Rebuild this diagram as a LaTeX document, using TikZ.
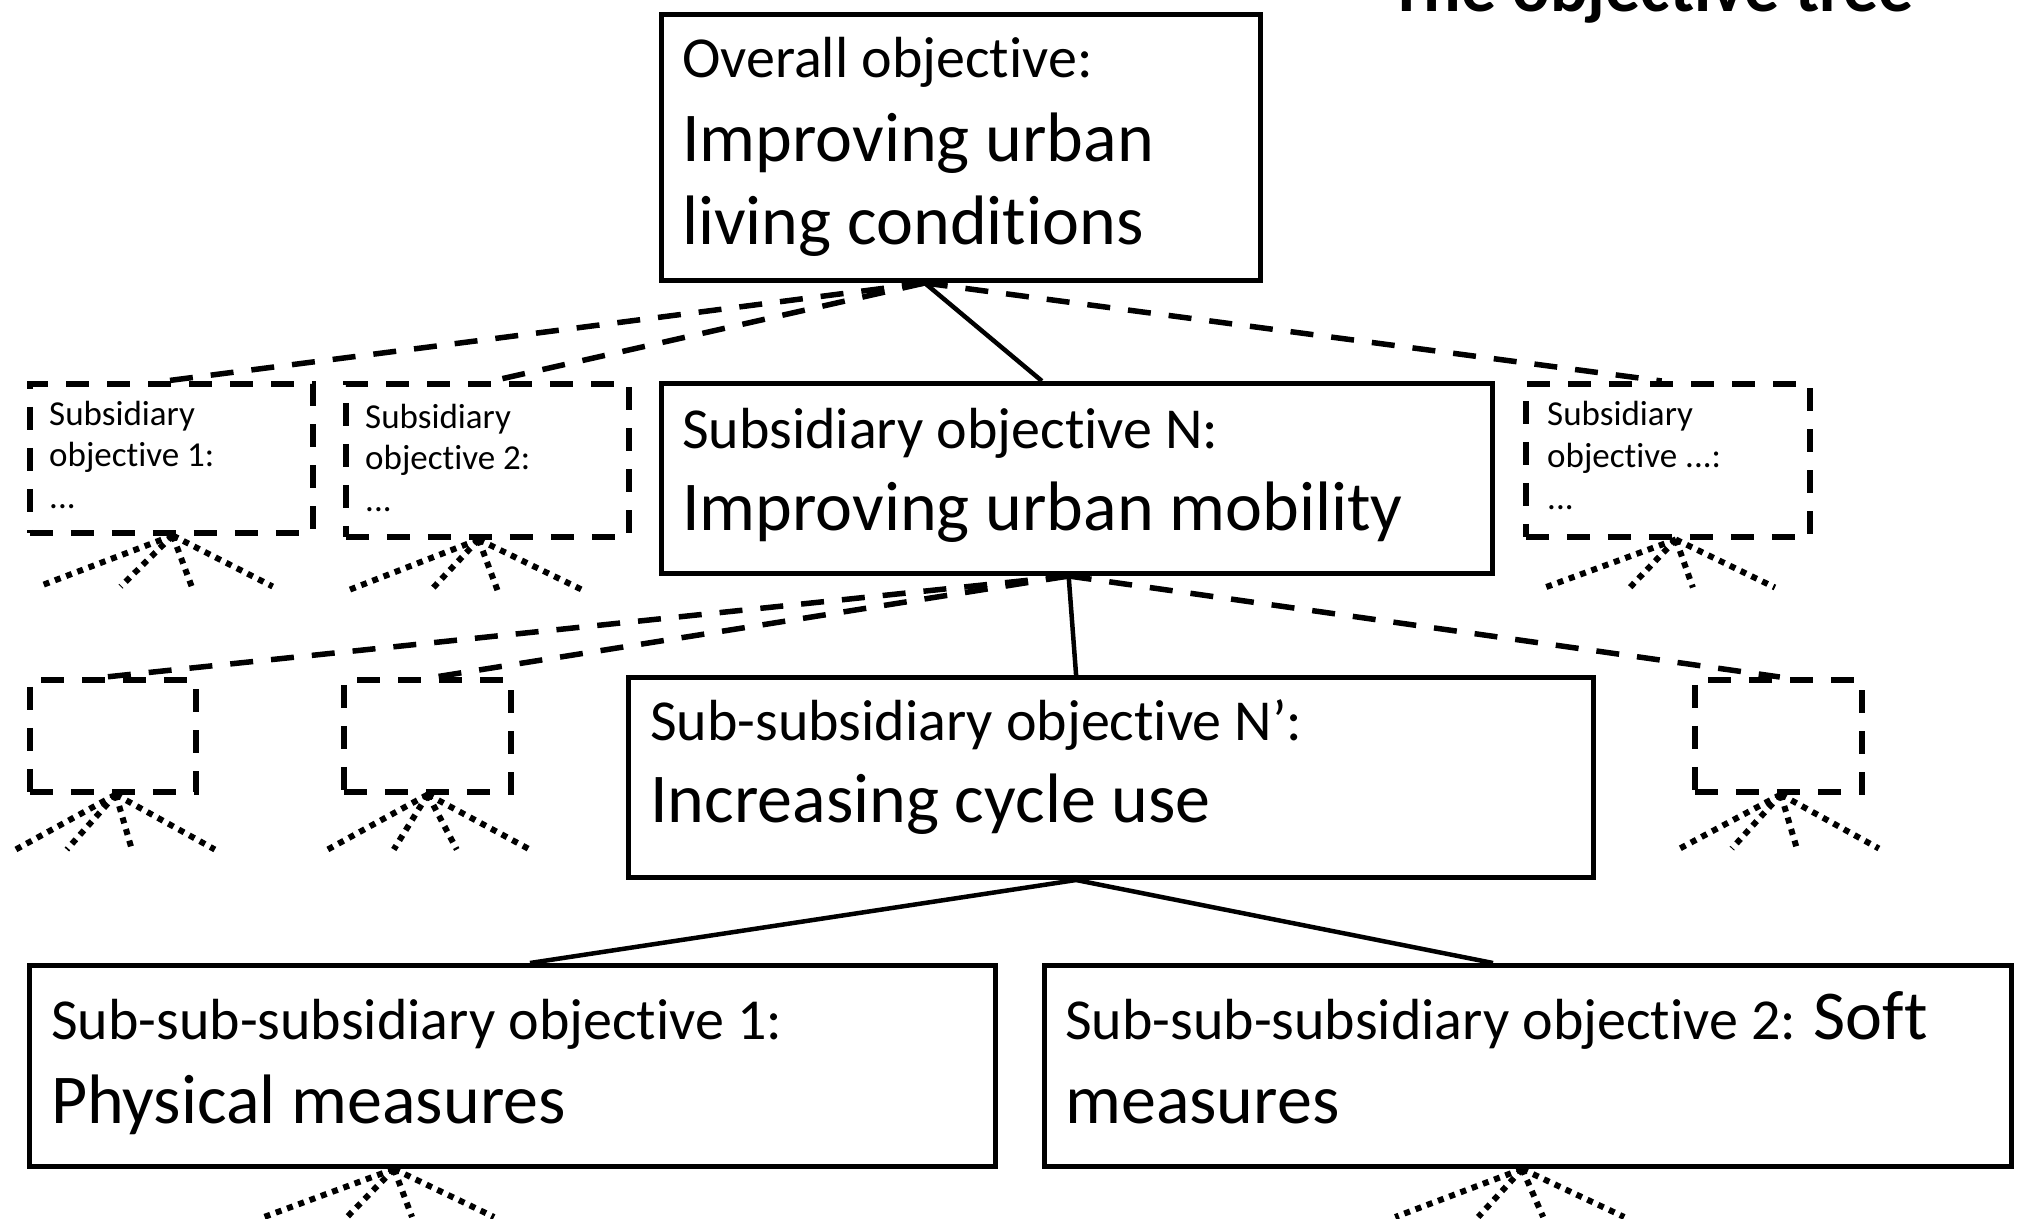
\documentclass[tikz,border=0pt]{standalone}
\usepackage{fontspec}
\setmainfont{Carlito}[Ligatures=NoCommon]
\usetikzlibrary{calc}

\newcommand\setfs[1]{\fontsize{#1}{#1}\selectfont}
% fan of dotted strokes hanging below a box
\newcommand\dotfan[4]{%
  \coordinate (#1-o) at ($(#1.south west)!#2!(#1.south east)$);
  \foreach \d [count=\i] in {#4} {
    \coordinate (#1-e\i) at ($(#1-o)+(\d,#3)$);
    \draw[dotline] (#1-o) -- (#1-e\i);
  }}

\begin{document}
\begin{tikzpicture}[x=1pt,y=-1pt,
  objbox/.style={draw, line width=5pt, inner sep=0pt, anchor=north west},
  dashbox/.style={objbox, line width=5.5pt, dash pattern=on 23pt off 18pt},
  link/.style={line width=4.5pt},
  dashlink/.style={line width=5.5pt, dash pattern=on 23pt off 18pt},
  dotline/.style={line width=6pt, dash pattern=on 6pt off 6pt},
  txt/.style={anchor=base west, inner sep=0pt},
  small/.style={txt, font=\setfs{58}},
  large/.style={txt, font=\setfs{70}},
  tiny/.style={txt, font=\setfs{35}}]
\useasboundingbox (0,0) rectangle (2017,1218);

% title
\node[txt, font=\bfseries\setfs{70}] (title) at (1389,12) {The objective tree};

% level 1
\node[objbox, minimum width=599pt, minimum height=266pt] (top) at (659,12) {};
\node[small] (topa) at (682,77) {Overall objective:};
\node[large] (topb) at (682,161) {Improving urban};
\node[large] (topc) at (682,244) {living conditions};

% level 2
\node[dashbox, minimum width=283pt, minimum height=149pt] (s1) at (27,381) {};
\node[tiny] (s1a) at (49,425) {Subsidiary};
\node[tiny] (s1b) at (49,466) {objective 1:};
\node[tiny] (s1c) at (49,508) {...};

\node[dashbox, minimum width=283pt, minimum height=153pt] (s2) at (343,381) {};
\node[tiny] (s2a) at (365,428) {Subsidiary};
\node[tiny] (s2b) at (365,469) {objective 2:};
\node[tiny] (s2c) at (365,511) {...};

\node[objbox, minimum width=831pt, minimum height=190pt] (nN) at (659,381) {};
\node[small] (nNa) at (682,448) {Subsidiary objective N:};
\node[large] (nNb) at (682,530) {Improving urban mobility};

\node[dashbox, minimum width=284pt, minimum height=153pt] (s3) at (1523,381) {};
\node[tiny] (s3a) at (1547,425) {Subsidiary};
\node[tiny] (s3b) at (1547,467) {objective ...:};
\node[tiny] (s3c) at (1547,509) {...};

% level 3
\node[dashbox, minimum width=166pt, minimum height=112pt] (da) at (27,677) {};
\node[dashbox, minimum width=167pt, minimum height=112pt] (db) at (341,677) {};
\node[objbox, minimum width=965pt, minimum height=200pt] (nP) at (626,675) {};
\node[small] (nPa) at (650,740) {Sub-subsidiary objective N’:};
\node[large] (nPb) at (650,822) {Increasing cycle use};
\node[dashbox, minimum width=167pt, minimum height=112pt] (dc) at (1692,677) {};

% level 4
\node[objbox, minimum width=966pt, minimum height=201pt] (phys) at (27,963) {};
\node[small] (physa) at (51,1039) {Sub-sub-subsidiary objective 1:};
\node[large] (physb) at (51,1123) {Physical measures};

\node[objbox, minimum width=967pt, minimum height=201pt] (soft) at (1042,963) {};
\node[txt] (softa) at (1065,1039) {\setfs{58}Sub-sub-subsidiary objective 2: \setfs{70}Soft};
\node[large] (softb) at (1065,1123) {measures};

% connectors level 1 -> 2
\coordinate (ap1) at ($(top.south west)!0.44!(top.south east)$);
\draw[link] (ap1) -- ($(nN.north west)!0.458!(nN.north east)$);
\draw[dashlink] (ap1) -- ($(s1.north west)!0.48!(s1.north east)$);
\draw[dashlink] (ap1) -- ($(s2.north west)!0.516!(s2.north east)$);
\draw[dashlink] (ap1) -- ($(s3.north west)!0.479!(s3.north east)$);

% connectors level 2 -> 3
\coordinate (ap2) at ($(nN.south west)!0.49!(nN.south east)$);
\draw[link] (ap2) -- ($(nP.north west)!0.464!(nP.north east)$);
\draw[dashlink] (ap2) -- ($(da.north west)!0.458!(da.north east)$);
\draw[dashlink] (ap2) -- ($(db.north west)!0.545!(db.north east)$);
\draw[dashlink] (ap2) -- ($(dc.north west)!0.509!(dc.north east)$);

% connectors level 3 -> 4
\coordinate (ap3) at ($(nP.south west)!0.464!(nP.south east)$);
\draw[link] (ap3) -- ($(phys.north west)!0.518!(phys.north east)$);
\draw[link] (ap3) -- ($(soft.north west)!0.464!(soft.north east)$);

% dotted fans below the boxes
\dotfan{s1}{0.505}{51}{-134,-52,19,100}
\dotfan{s2}{0.47}{51}{-131,-48,19,105}
\dotfan{s3}{0.528}{48}{-131,-46,17,99}
\dotfan{da}{0.518}{55}{-100,-49,16,99}
\dotfan{db}{0.503}{55}{-100,-34,29,102}
\dotfan{dc}{0.515}{54}{-101,-49,16,98}
\dotfan{phys}{0.378}{48}{-130,-47,18,100}
\dotfan{soft}{0.494}{48}{-127,-44,21,102}
\end{tikzpicture}
\end{document}
